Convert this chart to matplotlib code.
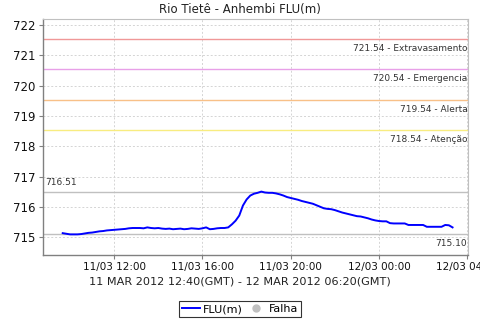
import matplotlib
matplotlib.use("Agg")
import matplotlib.pyplot as plt
import matplotlib.dates as mdates
from matplotlib.lines import Line2D
import numpy as np
import pandas as pd

# ---- data (local time, GMT-3) ----
start_time = "2012-03-11 09:40"
step_minutes = 10
flu_values = [
    715.14, 715.12, 715.10, 715.10, 715.10, 715.11, 715.13, 715.15, 715.16, 715.18,
    715.20, 715.21, 715.23, 715.24, 715.25, 715.26, 715.27, 715.28, 715.30, 715.31,
    715.31, 715.31, 715.30, 715.33, 715.31, 715.30, 715.31, 715.29, 715.28, 715.29,
    715.27, 715.28, 715.29, 715.27, 715.28, 715.30, 715.29, 715.28, 715.30, 715.33,
    715.27, 715.28, 715.30, 715.31, 715.31, 715.33, 715.43, 715.55, 715.72, 716.05,
    716.25, 716.38, 716.44, 716.47, 716.51, 716.48, 716.47, 716.47, 716.45, 716.42,
    716.38, 716.33, 716.30, 716.27, 716.24, 716.20, 716.17, 716.14, 716.11, 716.06,
    716.01, 715.96, 715.94, 715.93, 715.90, 715.86, 715.82, 715.79, 715.76, 715.73,
    715.70, 715.69, 715.66, 715.63, 715.59, 715.56, 715.54, 715.53, 715.53, 715.47,
    715.46, 715.46, 715.46, 715.46, 715.41, 715.41, 715.41, 715.41, 715.41, 715.35,
    715.35, 715.35, 715.35, 715.35, 715.41, 715.40, 715.33,
]
threshold_values = [721.54, 720.54, 719.54, 718.54]
threshold_names = ["Extravasamento", "Emergencia", "Alerta", "Atenção"]
threshold_colors = ["#f09898", "#e8a0e8", "#f8c088", "#f8ec80"]
max_value = 716.51
min_value = 715.10

title = "Rio Tietê - Anhembi FLU(m)"
xlabel = "11 MAR 2012 12:40(GMT) - 12 MAR 2012 06:20(GMT)"
x_range = ["2012-03-11 08:45", "2012-03-12 04:02"]
y_range = [714.42, 722.2]

times = pd.date_range(start_time, periods=len(flu_values), freq=f"{step_minutes}min")

fig = plt.figure(figsize=(4.8, 3.2), dpi=100)
ax = fig.add_axes([42.5 / 480, 65 / 320, 425.5 / 480, 236 / 320])

ax.set_xlim(pd.Timestamp(x_range[0]), pd.Timestamp(x_range[1]))
ax.set_ylim(*y_range)

ax.grid(True, color="#d4d4d4", linestyle=(0, (2, 2)), linewidth=0.7)
ax.set_axisbelow(True)

for v, name, c in zip(threshold_values, threshold_names, threshold_colors):
    ax.axhline(v, color=c, linewidth=1.0, zorder=2)
    ax.annotate(f"{v:.2f} - {name}", xy=(1, v), xycoords=("axes fraction", "data"),
                xytext=(-0.5, -3.5), textcoords="offset points", ha="right", va="top",
                fontsize=6.5, color="#333333")

ax.axhline(max_value, color="#c0c0c0", linewidth=1.0, zorder=2)
ax.annotate(f"{max_value:.2f}", xy=(0, max_value), xycoords=("axes fraction", "data"),
            xytext=(2, 3), textcoords="offset points", ha="left", va="bottom",
            fontsize=6.5, color="#333333")
ax.axhline(min_value, color="#c0c0c0", linewidth=1.0, zorder=2)
ax.annotate(f"{min_value:.2f}", xy=(1, min_value), xycoords=("axes fraction", "data"),
            xytext=(-0.5, -3), textcoords="offset points", ha="right", va="top",
            fontsize=6.5, color="#333333")

ax.plot(times, flu_values, color="#0000ff", linewidth=1.4, zorder=3)

ax.xaxis.set_major_locator(mdates.HourLocator(byhour=[0, 4, 8, 12, 16, 20]))
ax.xaxis.set_major_formatter(mdates.DateFormatter("%d/%m %H:%M"))
ax.yaxis.set_major_locator(matplotlib.ticker.MultipleLocator(1))
ax.yaxis.set_major_formatter(matplotlib.ticker.FormatStrFormatter("%d"))

for s in ["left", "bottom"]:
    ax.spines[s].set_color("#808080")
    ax.spines[s].set_linewidth(1.0)
ax.spines["top"].set_color("#c0c0c0")
ax.spines["right"].set_color("#c0c0c0")
ax.tick_params(axis="both", direction="out", length=3, color="#808080",
               labelsize=7.5, labelcolor="#111111", pad=2)
ax.tick_params(axis="y", labelsize=8.5)
for lbl in ax.get_xticklabels():
    lbl.set_clip_on(False)

fig.text(0.5, 1 - 9 / 320, title, ha="center", va="center", fontsize=8.5, color="#222222")
fig.text(0.5, 1 - 281 / 320, xlabel, ha="center", va="center", fontsize=8.1, color="#222222")

handles = [Line2D([0], [0], color="#0000ff", linewidth=1.4),
           Line2D([0], [0], color="#c0c0c0", marker="o", linestyle="none", markersize=5)]
leg = fig.legend(handles, ["FLU(m)", "Falha"], loc="center", bbox_to_anchor=(0.5, 1 - 309 / 320),
                 ncol=2, frameon=True, fontsize=8, handlelength=1.6, handletextpad=0.3,
                 columnspacing=0.4, borderpad=0.3, fancybox=False, edgecolor="#000000",
                 borderaxespad=0)
leg.get_frame().set_linewidth(0.8)

fig.savefig("out.png", dpi=100)
